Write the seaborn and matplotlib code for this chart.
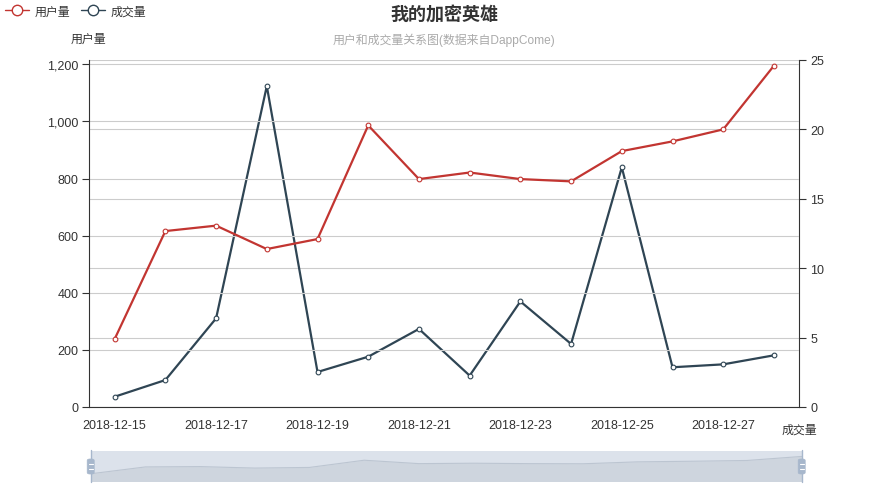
import pandas as pd
import seaborn as sns
import matplotlib.pyplot as plt
from matplotlib.lines import Line2D
from matplotlib.patches import FancyBboxPatch
from matplotlib.ticker import FuncFormatter

dates = ["2018-12-15", "2018-12-16", "2018-12-17", "2018-12-18", "2018-12-19",
         "2018-12-20", "2018-12-21", "2018-12-22", "2018-12-23", "2018-12-24",
         "2018-12-25", "2018-12-26", "2018-12-27", "2018-12-28"]
users = [238, 616, 635, 553, 588, 986, 798, 821, 798, 790, 896, 930, 972, 1195]
trades = [0.74, 1.94, 6.38, 23.1, 2.52, 3.62, 5.62, 2.26, 7.6, 4.54, 17.25, 2.86, 3.07, 3.72]

title = "我的加密英雄"
subtitle = "用户和成交量关系图(数据来自DappCome)"
user_name = "用户量"
trade_name = "成交量"

RED = "#c23531"
DARK = "#2f4554"
TXT = "#333333"

sns.set_style("white")
plt.rcParams['font.family'] = ['Liberation Sans', 'Noto Sans CJK SC', 'DejaVu Sans']
plt.rcParams['axes.unicode_minus'] = False

df = pd.DataFrame({"date": dates, "users": users, "trades": trades, "idx": range(len(dates))})

fig = plt.figure(figsize=(8.88, 4.89), dpi=100)
W, H = 888, 489
ax2 = fig.add_axes([89.3 / W, 1 - 408 / H, 710 / W, 347.3 / H])
ax = fig.add_axes(ax2.get_position(), sharex=ax2)
ax.set_zorder(ax2.get_zorder() + 1)
ax.patch.set_visible(False)

# transaction line (right axis)
sns.lineplot(data=df, x="idx", y="trades", ax=ax2, color=DARK, linewidth=1.6,
             marker="o", markersize=3.4, markerfacecolor="white",
             markeredgecolor=DARK, markeredgewidth=0.8)
# user line (left axis)
sns.lineplot(data=df, x="idx", y="users", ax=ax, color=RED, linewidth=1.6,
             marker="o", markersize=3.4, markerfacecolor="white",
             markeredgecolor=RED, markeredgewidth=0.8)

ax.set_xlim(-0.5, len(dates) - 0.5)
ax.set_ylim(0, 1216)
ax2.set_ylim(0, 25)
ax.set_yticks(range(0, 1201, 200))
ax.yaxis.set_major_formatter(FuncFormatter(lambda v, p: f"{v:,.0f}"))
ax2.set_yticks(range(0, 26, 5))
ax2.yaxis.tick_right()

ax.grid(axis="y", color="#cccccc", linewidth=0.8)
ax2.grid(axis="y", color="#cccccc", linewidth=0.8)
ax.grid(axis="x", visible=False)
ax2.grid(axis="x", visible=False)

ax.set_xticks(range(0, len(dates), 2))
ax.set_xticklabels(dates[::2])
ax.set_xticks(range(1, len(dates), 2), minor=True)
ax.tick_params(axis="x", which="major", length=0, pad=9, labelsize=9, colors=TXT)
ax.tick_params(axis="x", which="minor", length=5, width=0.8, color=TXT, direction="out")
ax.tick_params(axis="y", length=5, width=0.8, color=TXT, labelsize=9,
               labelcolor=TXT, pad=3, direction="out", left=True)
ax2.tick_params(axis="y", length=5, width=0.8, color=TXT, labelsize=9,
                labelcolor=TXT, pad=3, direction="out", right=True)
ax2.tick_params(axis="x", bottom=False, labelbottom=False)

for a in (ax, ax2):
    a.set_xlabel("")
    a.set_ylabel("")
    for s in a.spines.values():
        s.set_visible(False)
ax.spines["left"].set_visible(True)
ax.spines["bottom"].set_visible(True)
ax2.spines["right"].set_visible(True)
for s in (ax.spines["left"], ax.spines["bottom"], ax2.spines["right"]):
    s.set_color(TXT)
    s.set_linewidth(0.8)

# titles and axis names
fig.text(0.5, 1 - 15 / H, title, ha="center", va="center", fontsize=13,
         fontweight="bold", color=TXT)
fig.text(0.5, 1 - 40 / H, subtitle, ha="center", va="center", fontsize=8.6,
         color="#aaaaaa")
fig.text(88.6 / W, 1 - 40 / H, user_name, ha="center", va="center",
         fontsize=8.6, color=TXT)
fig.text(799 / W, 1 - 431 / H, trade_name, ha="center", va="center",
         fontsize=8.6, color=TXT)

# legend
handles = [Line2D([], [], color=RED, linewidth=1.0, marker="o", markersize=7.5,
                  markerfacecolor="white", markeredgecolor=RED, markeredgewidth=1.0),
           Line2D([], [], color=DARK, linewidth=1.0, marker="o", markersize=7.5,
                  markerfacecolor="white", markeredgecolor=DARK, markeredgewidth=1.0)]
fig.legend(handles, [user_name, trade_name], loc="center left",
           bbox_to_anchor=(5 / W, 1 - 12.5 / H), ncol=2, frameon=False,
           fontsize=8.6, handlelength=2.0, handletextpad=0.5, columnspacing=0.85,
           borderaxespad=0, borderpad=0, labelcolor=TXT)

# data zoom slider
zx0, zy0, zw, zh = 90.7, 452, 711, 29.7
zax = fig.add_axes([zx0 / W, 1 - (zy0 + zh) / H, zw / W, zh / H])
zax.set_facecolor("#dce2eb")
sns.lineplot(data=df, x="idx", y="users", ax=zax, color="#bcc5d1", linewidth=0.8)
zax.fill_between(df["idx"], users, -200, color="#ced5de", linewidth=0)
zax.set_xlim(0, len(dates) - 1)
zax.set_ylim(-144, 1495)
zax.set_xticks([])
zax.set_yticks([])
zax.set_xlabel("")
zax.set_ylabel("")
for s in zax.spines.values():
    s.set_visible(False)

for hx in (zx0, zx0 + zw):
    fig.add_artist(Line2D([hx / W, hx / W], [1 - (zy0 - 1) / H, 1 - (zy0 + zh + 1) / H],
                          color="#a7b7cc", linewidth=1.0))
    fig.add_artist(FancyBboxPatch(((hx - 3.5) / W, 1 - 475 / H), 7 / W, 15 / H,
                                  boxstyle="round,pad=0,rounding_size=0.003",
                                  facecolor="#a7b7cc", edgecolor="#a7b7cc",
                                  linewidth=0.5))
    for ly in (465, 470):
        fig.add_artist(Line2D([(hx - 2) / W, (hx + 2) / W], [1 - ly / H, 1 - ly / H],
                              color="white", linewidth=0.8))

fig.savefig("out.png", dpi=100)
